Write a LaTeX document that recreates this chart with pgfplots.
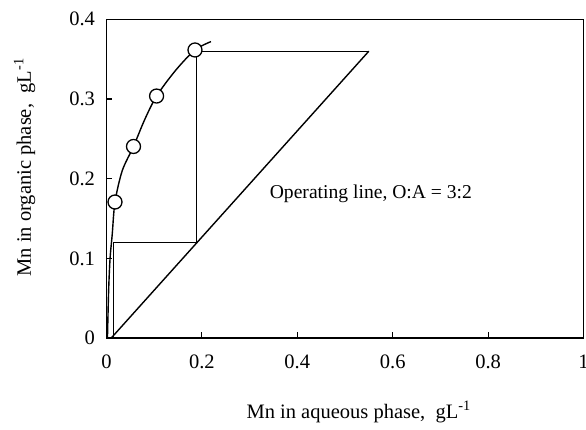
\documentclass[border=0pt]{standalone}
\usepackage{pgfplots}
\pgfplotsset{compat=1.18}
\usepackage{fontspec}
\setmainfont{Liberation Serif}
\begin{document}
\begin{tikzpicture}[font=\fontsize{20.5}{24}\selectfont]
\path[use as bounding box] (-106.5pt,-91pt) rectangle (479.5pt,338pt);
\begin{axis}[
  at={(0pt,0pt)}, anchor=south west,
  scale only axis, width=477pt, height=318.7pt,
  xmin=0, xmax=1, ymin=0, ymax=0.4,
  xtick={0,0.2,0.4,0.6,0.8,1}, xticklabels={0,0.2,0.4,0.6,0.8,1},
  ytick={0,0.1,0.2,0.3,0.4}, yticklabels={0,0.1,0.2,0.3,0.4},
  xtick pos=left, ytick pos=left, tick align=inside,
  major tick length=6pt,
  every tick/.style={black, line width=1.1pt},
  axis line style={line width=1.3pt},
  tick label style={font=\fontsize{20.5}{24}\selectfont},
  xticklabel style={yshift=-13pt},
  yticklabel style={xshift=-8pt},
  /pgf/number format/assume math mode=true,
  every axis x label/.style={at={(axis description cs:0.2862,-0.251)}, anchor=base west, font=\fontsize{20.5}{24}\selectfont},
  every axis y label/.style={at={(axis description cs:-0.1583,0.182)}, rotate=90, anchor=base west, font=\fontsize{20.5}{24}\selectfont},
  xlabel={Mn in aqueous phase,~~gL\textsuperscript{-1}},
  ylabel={Mn in organic phase,~~gL\textsuperscript{-1}},
  clip=false,
]
% equilibrium curve
\addplot[black, line width=1.4pt, smooth, tension=0.5] coordinates {
 (0.002,0) (0.0045,0.06) (0.0075,0.1) (0.012,0.13) (0.0178,0.1707) (0.033,0.21) (0.0566,0.2404)
 (0.08,0.274) (0.105,0.3037) (0.145,0.336) (0.1855,0.3615) (0.219,0.372)
};
% operating line
\addplot[black, line width=1.4pt] coordinates {(0.01,0) (0.55,0.36)};
% stages
\addplot[black, line width=1.2pt] coordinates {(0.55,0.36) (0.188,0.36) (0.188,0.12) (0.014,0.12) (0.014,0)};
% data points
\addplot[only marks, mark=*, mark size=7pt, mark options={fill=white, draw=black, line width=1.3pt}] coordinates {
 (0.0178,0.1707) (0.0566,0.2404) (0.105,0.3037) (0.1855,0.3615)
};
\node[anchor=base west, inner sep=0pt, font=\fontsize{19.6}{23}\selectfont] at (axis cs:0.342,0.175) {Operating line, O:A = 3:2};
\end{axis}
\end{tikzpicture}
\end{document}
